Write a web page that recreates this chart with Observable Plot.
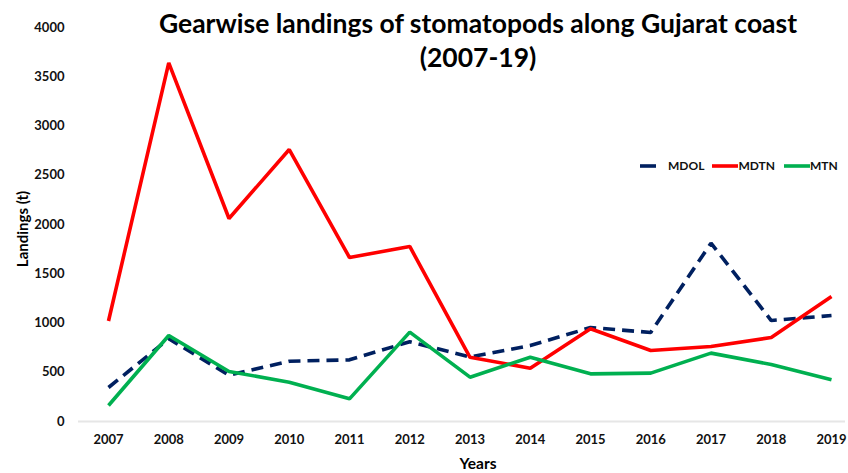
<!DOCTYPE html>
<html>
<head>
<meta charset="utf-8">
<script src="https://cdn.jsdelivr.net/npm/d3@7"></script>
<script src="https://cdn.jsdelivr.net/npm/@observablehq/plot@0.6"></script>
<style>
  body { margin: 0; background: #fff; }
  #wrap { position: relative; width: 848px; height: 473px; overflow: hidden; font-family: Lato, "Open Sans", sans-serif; }
  #title { position: absolute; left: 0; width: 956px; top: 6px; text-align: center; font-weight: bold; font-size: 26.5px; line-height: 34px; color: #000; pointer-events: none; }
  #legend { position: absolute; left: 638px; top: 158px; display: flex; align-items: center; font-weight: bold; font-size: 12px; color: #111; }
  #legend .item { display: flex; align-items: center; }
  #legend svg { display: block; }
  #ylab { position: absolute; left: 22px; top: 229px; transform: translate(-50%, -50%) rotate(-90deg); font-weight: bold; font-size: 15px; white-space: nowrap; }
  #xlab { position: absolute; left: 478px; top: 463px; transform: translate(-50%, -50%); font-weight: bold; font-size: 15.5px; line-height: 16px; }
</style>
</head>
<body>
<div id="wrap">
  <div id="chart"></div>
  <div id="title">Gearwise landings of stomatopods along Gujarat coast<br>(2007-19)</div>
  <div id="legend"></div>
  <div id="ylab">Landings (t)</div>
  <div id="xlab">Years</div>
</div>
<script>
const years = [2007, 2008, 2009, 2010, 2011, 2012, 2013, 2014, 2015, 2016, 2017, 2018, 2019];
const seriesNames = ["MDOL", "MDTN", "MTN"];
const mdol = [345, 840, 470, 612, 626, 810, 655, 771, 954, 904, 1810, 1025, 1076];
const mdtn = [1020, 3640, 2061, 2761, 1665, 1777, 652, 541, 941, 721, 761, 853, 1269];
const mtn  = [162, 873, 508, 399, 230, 907, 450, 653, 484, 491, 694, 579, 423];
const yTicks = [0, 500, 1000, 1500, 2000, 2500, 3000, 3500, 4000];
const colors = {MDOL: "#002060", MDTN: "#FF0000", MTN: "#00B050"};
const dashes = {MDOL: "12,7", MDTN: null, MTN: null};

const valuesBySeries = {MDOL: mdol, MDTN: mdtn, MTN: mtn};
const rows = seriesNames.flatMap(s => years.map((y, i) => ({series: s, year: y, value: valuesBySeries[s][i]})));

const lineMarks = seriesNames.map(s => Plot.line(rows.filter(r => r.series === s), {
  x: "year", y: "value", stroke: colors[s], strokeWidth: 3.6,
  strokeDasharray: dashes[s] || undefined, strokeLinejoin: "miter", strokeLinecap: "butt"
}));

const chart = Plot.plot({
  width: 848,
  height: 473,
  marginTop: 27,
  marginBottom: 52,
  marginLeft: 108,
  marginRight: 17,
  style: {fontFamily: "Lato, 'Open Sans', sans-serif", fontSize: "13px", fontWeight: "bold", color: "#111", background: "#fff"},
  x: {domain: [2007, 2019], ticks: years, tickFormat: d => String(d)},
  y: {domain: [0, 4000], ticks: yTicks, tickFormat: d => String(d)},
  marks: [
    Plot.ruleY([0], {stroke: "#e6e6e6", strokeWidth: 2, insetLeft: -30, insetRight: -14}),
    Plot.axisY({ticks: yTicks, tickFormat: d => String(d), tickSize: 0, tickPadding: 44, label: null}),
    Plot.axisX({ticks: years, tickFormat: d => String(d), tickSize: 0, tickPadding: 13, label: null}),
    ...lineMarks
  ]
});
document.getElementById("chart").appendChild(chart);

const legend = document.getElementById("legend");
const legendSpec = [
  {name: "MDOL", w: 20, gapAfter: 10, gapBefore: 0},
  {name: "MDTN", w: 26, gapAfter: 0, gapBefore: 8},
  {name: "MTN", w: 26, gapAfter: 0, gapBefore: 9}
];
legendSpec.forEach(({name, w, gapAfter, gapBefore}) => {
  const item = document.createElement("div");
  item.className = "item";
  item.style.marginLeft = gapBefore + "px";
  const svgNS = "http://www.w3.org/2000/svg";
  const sw = document.createElementNS(svgNS, "svg");
  sw.setAttribute("width", w); sw.setAttribute("height", 10);
  const ln = document.createElementNS(svgNS, "line");
  if (name === "MDOL") { ln.setAttribute("x1", 2); ln.setAttribute("x2", 18); }
  else { ln.setAttribute("x1", 0); ln.setAttribute("x2", w); }
  ln.setAttribute("y1", 5); ln.setAttribute("y2", 5);
  ln.setAttribute("stroke", colors[name]); ln.setAttribute("stroke-width", 3.6);
  sw.appendChild(ln);
  const t = document.createElement("span");
  t.textContent = name;
  t.style.marginLeft = gapAfter + "px";
  item.appendChild(sw); item.appendChild(t);
  legend.appendChild(item);
});
</script>
</body>
</html>
